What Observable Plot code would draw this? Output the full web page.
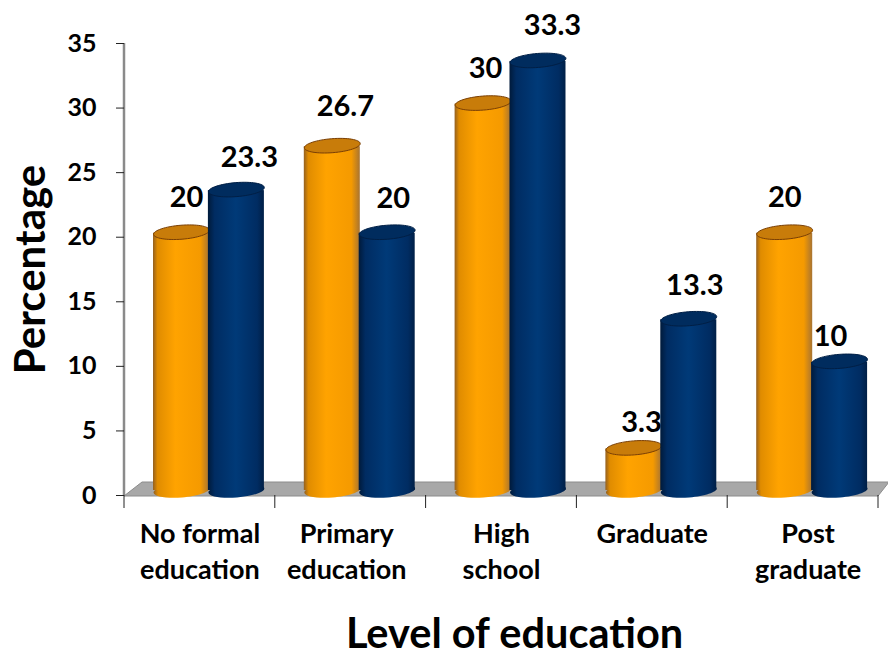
<!DOCTYPE html>
<html>
<head>
<meta charset="utf-8">
<style>
  html, body { margin: 0; padding: 0; background: #fff; }
</style>
<script src="https://cdn.jsdelivr.net/npm/d3@7"></script>
<script src="https://cdn.jsdelivr.net/npm/@observablehq/plot@0.6"></script>
</head>
<body>
<div id="chart"></div>
<script>
// Education level by group, in percent
const categories = ["No formal\neducation", "Primary\neducation", "High\nschool", "Graduate", "Post\ngraduate"];
const orangeValues = [20, 26.7, 30, 3.3, 20];
const blueValues = [23.3, 20, 33.3, 13.3, 10];
const yTicks = [0, 5, 10, 15, 20, 25, 30, 35];

// Layout
const width = 888, height = 652;
const margin = {top: 43, right: 10, bottom: 157, left: 124};
const bandWidth = (width - margin.left - margin.right) / categories.length;
const cylinderWidth = 56, capHeight = 14, lift = 5, capTilt = -4.5 * Math.PI / 180;

// Where each cylinder sits inside its band, as a fraction of the band
const slots = {orange: 0.378, blue: 0.742};

// Label nudges in pixels from the top of each cylinder's centre
const orangeNudge = [[5, -39], [13, -44], [2.4, -39], [7.6, -30], [0, -39]];
const blueNudge = [[13, -37], [6, -38], [14.5, -40], [6, -38], [-9, -30]];
const categoryShift = [0, -4, 0, 0, 5];

// A flattened, slightly tilted ellipse used as a dot symbol for the cylinder ends
const ellipse = (rx, ry, angle) => {
  const cos = Math.cos(angle), sin = Math.sin(angle), k = 0.5523;
  const p = (x, y) => [x * cos - y * sin, x * sin + y * cos];
  return {
    draw(ctx) {
      ctx.moveTo(...p(-rx, 0));
      ctx.bezierCurveTo(...p(-rx, -ry * k), ...p(-rx * k, -ry), ...p(0, -ry));
      ctx.bezierCurveTo(...p(rx * k, -ry), ...p(rx, -ry * k), ...p(rx, 0));
      ctx.bezierCurveTo(...p(rx, ry * k), ...p(rx * k, ry), ...p(0, ry));
      ctx.bezierCurveTo(...p(-rx * k, ry), ...p(-rx, ry * k), ...p(-rx, 0));
      ctx.closePath();
    }
  };
};
const capSymbol = ellipse(cylinderWidth / 2, capHeight / 2, capTilt);

// Cylinder shading: dark rims with a lighter centre
const gradients = () => {
  const g = document.createElementNS("http://www.w3.org/2000/svg", "g");
  g.innerHTML = `<defs>
    <linearGradient id="orangeBody" x1="0" x2="1" y1="0" y2="0">
      <stop offset="0" stop-color="#94601f"/>
      <stop offset="0.08" stop-color="#e08c00"/>
      <stop offset="0.4" stop-color="#ffa300"/>
      <stop offset="0.85" stop-color="#f59a00"/>
      <stop offset="1" stop-color="#a87432"/>
    </linearGradient>
    <linearGradient id="blueBody" x1="0" x2="1" y1="0" y2="0">
      <stop offset="0" stop-color="#001a3a"/>
      <stop offset="0.12" stop-color="#002c62"/>
      <stop offset="0.5" stop-color="#003a78"/>
      <stop offset="0.88" stop-color="#002c62"/>
      <stop offset="1" stop-color="#001f46"/>
    </linearGradient>
  </defs>`;
  return g;
};

// Grey floor and wall line
const floor = (index, {x, y}) => {
  const [x0, x1] = x.range();
  const y0 = y(0);
  const s = d3.create("svg:g");
  s.append("path")
    .attr("d", `M${x0},${y0 + 1}L${x1},${y0 + 1}L${x1 + 11},${y0 - 13}L${x0 + 18},${y0 - 13}Z`)
    .attr("fill", "#a8a8a8")
    .attr("stroke", "#8c8c8c");
  s.append("line")
    .attr("x1", x0).attr("x2", x0)
    .attr("y1", y(35)).attr("y2", y0)
    .attr("stroke", "#8a8a8a").attr("stroke-width", 2.5);
  return s.node();
};

// Tick marks on the category boundaries
const boundaryTicks = (index, {x, y}) => {
  const [, x1] = x.range();
  const s = d3.create("svg:g");
  for (const px of [...categories.map((c) => x(c)), x1]) {
    s.append("line")
      .attr("x1", px).attr("x2", px)
      .attr("y1", y(0)).attr("y2", y(0) + 13)
      .attr("stroke", "#222").attr("stroke-width", 1);
  }
  return s.node();
};

const rowsOf = (values) => categories.map((category, i) => ({category, value: values[i]}));

function cylinder(values, slot, bodyId, capFill, capStroke) {
  const rows = rowsOf(values);
  const left = (slot * bandWidth) - cylinderWidth / 2;
  const right = bandWidth - left - cylinderWidth;
  const dx = (slot - 0.5) * bandWidth;
  return [
    Plot.dot(rows, {x: "category", y: () => 0, dx, dy: -lift, symbol: capSymbol, fill: `url(#${bodyId})`, r: 5}),
    Plot.barY(rows, {x: "category", y: "value", dy: -lift, insetLeft: left, insetRight: right, insetTop: 1, fill: `url(#${bodyId})`}),
    Plot.dot(rows, {x: "category", y: "value", dx, dy: -lift, symbol: capSymbol, fill: capFill, stroke: capStroke, strokeWidth: 1, r: 5})
  ];
}

function valueLabels(values, slot, nudges) {
  return rowsOf(values).map((row, i) =>
    Plot.text([row], {
      x: "category",
      y: "value",
      text: (d) => String(d.value),
      dx: (slot - 0.5) * bandWidth + nudges[i][0],
      dy: nudges[i][1],
      fontSize: 29,
      fontWeight: "bold",
      fill: "#000"
    })
  );
}

const categoryLabels = categories.map((category, i) =>
  Plot.text([category], {
    x: (d) => d,
    frameAnchor: "bottom",
    lineAnchor: "top",
    dx: categoryShift[i],
    dy: 22,
    fontSize: 27,
    fontWeight: "bold",
    lineHeight: 1.34,
    fill: "#000"
  })
);

const chart = Plot.plot({
  width,
  height,
  marginTop: margin.top,
  marginRight: margin.right,
  marginBottom: margin.bottom,
  marginLeft: margin.left,
  style: {fontFamily: "Lato, 'Noto Sans', sans-serif", background: "#fff", color: "#000"},
  x: {domain: categories, padding: 0, round: false, label: null, axis: null},
  y: {domain: [0, 35], label: null},
  marks: [
    gradients,
    floor,
    boundaryTicks,
    Plot.axisY({
      ticks: yTicks,
      tickSize: 8,
      tickPadding: 20,
      fontSize: 25,
      fontWeight: "bold",
      stroke: "#222",
      fill: "#000",
      label: null
    }),
    ...categoryLabels,
    ...cylinder(orangeValues, slots.orange, "orangeBody", "#c87c0a", "#7a3f05"),
    ...cylinder(blueValues, slots.blue, "blueBody", "#002c5e", "#001f45"),
    ...valueLabels(orangeValues, slots.orange, orangeNudge),
    ...valueLabels(blueValues, slots.blue, blueNudge),
    Plot.text(["Percentage"], {
      frameAnchor: "left",
      textAnchor: "middle",
      dx: -93,
      rotate: -90,
      fontSize: 42,
      fontWeight: "bold",
      fill: "#000"
    }),
    Plot.text(["Level of education"], {
      frameAnchor: "bottom",
      lineAnchor: "middle",
      dx: 13,
      dy: 139,
      fontSize: 41.5,
      fontWeight: "bold",
      fill: "#000"
    })
  ]
});
document.getElementById("chart").append(chart);
</script>
</body>
</html>
